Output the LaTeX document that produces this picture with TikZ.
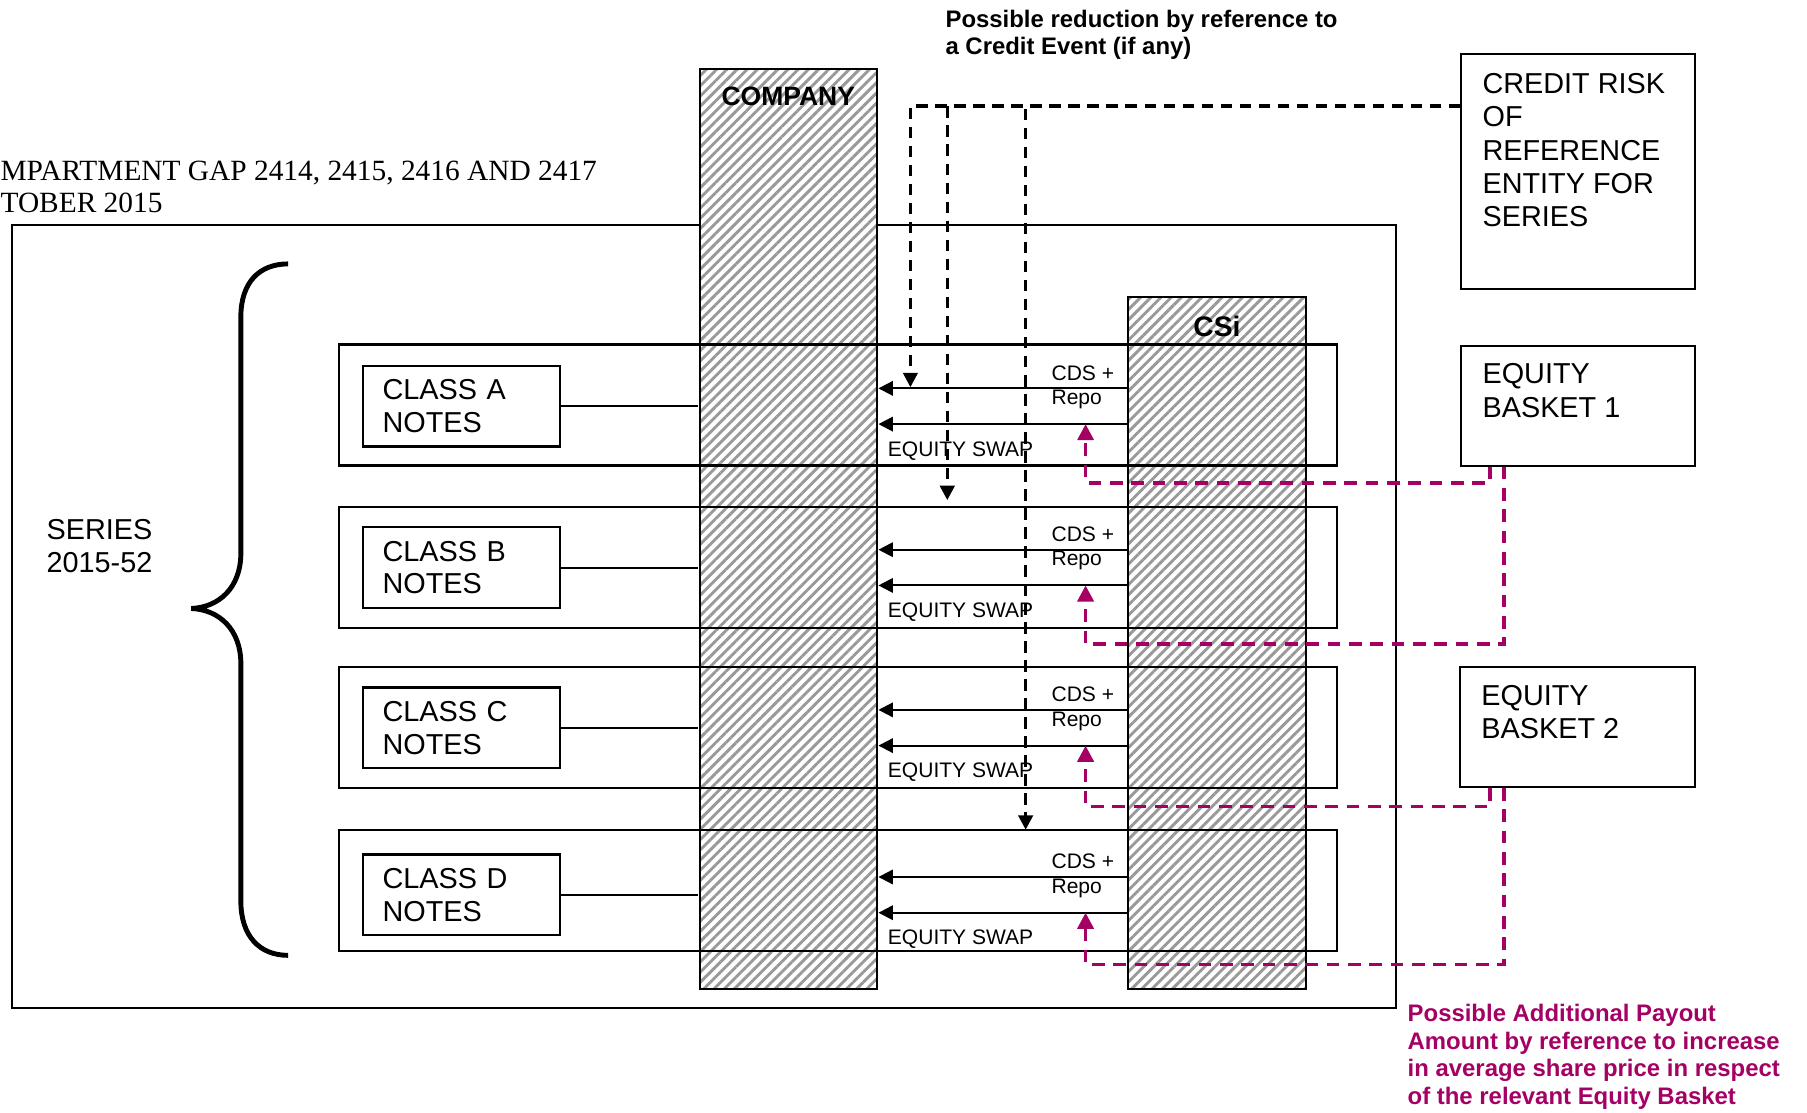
\documentclass[tikz,border=0pt]{standalone}
\usepackage{fontspec}
\setmainfont{Liberation Sans}
\newfontfamily\titlefont{Liberation Serif}
\usetikzlibrary{arrows.meta,patterns.meta}
\definecolor{payout}{RGB}{165,0,100}
\tikzset{
	hatch/.style={draw, line width=0.7pt, inner sep=0, preaction={fill=white}, pattern={Lines[angle=45,distance=2.5pt,line width=1pt]}, pattern color=black!40},
	framebox/.style={draw, line width=0.7pt, inner sep=0},
	classbox/.style={draw, line width=0.8pt, align=left, text width=54.8pt, inner xsep=6.8pt, inner ysep=0, minimum height=28pt, font=\fontsize{10}{11.4}\selectfont},
	big/.style={font=\fontsize{10}{11.6}\selectfont, align=left, inner sep=0, anchor=north west},
	small/.style={font=\fontsize{7.3}{8.5}\selectfont, inner sep=0, anchor=base west},
	note/.style={font=\bfseries\fontsize{8.3}{9.6}\selectfont, align=left, inner sep=0, anchor=north west},
	flow/.style={line width=0.7pt, -{Triangle[length=5pt,width=5pt]}},
	risk/.style={line width=1.1pt, dash pattern=on 4pt off 2.6pt, -{Triangle[length=5pt,width=5pt]}},
	pay/.style={payout, line width=1.2pt, dash pattern=on 4.4pt off 3pt, -{Triangle[length=5.6pt,width=5.6pt]}}
}
\begin{document}
\begin{tikzpicture}[x=0.4pt, y=-0.4pt]
	\path[use as bounding box, fill=white] (0,0) rectangle (1568,965);
	% title (cut at the left edge)
	\node[big, font=\titlefont\fontsize{10.2}{11.2}\selectfont] (title) at (0,139) {MPARTMENT GAP 2414, 2415, 2416 AND 2417\\TOBER 2015};
	\node[framebox, minimum width=480.4pt, minimum height=272pt] (compartment) at (610.5,535) {};
	% the two parties
	\node[hatch, minimum width=61.6pt, minimum height=319.2pt] (company) at (684,459) {};
	\node[font=\bfseries\fontsize{9.2}{11}\selectfont] (companylbl) at (684,84) {COMPANY};
	\node[hatch, minimum width=61.6pt, minimum height=240pt] (csi) at (1056,558) {};
	\node[font=\bfseries\fontsize{9.8}{11}\selectfont] (csilbl) at (1056,283) {CSi};
	% boxes on the right
	\node[framebox, minimum width=81.2pt, minimum height=81.6pt] (credit) at (1369.5,149) {};
	\node[big] (creditlbl) at (1286,63) {CREDIT RISK\\OF\\REFERENCE\\ENTITY FOR\\SERIES};
	\node[framebox, minimum width=81.2pt, minimum height=41.6pt] (bask1) at (1369.5,352) {};
	\node[big] (bask1lbl) at (1286,315) {EQUITY\\BASKET 1};
	\node[framebox, minimum width=81.6pt, minimum height=41.6pt] (bask2) at (1369,631) {};
	\node[big] (bask2lbl) at (1285,594) {EQUITY\\BASKET 2};
	% series
	\node[big] (series) at (40,450) {SERIES\\2015-52};
	\draw[line width=1.7pt] (250,229) .. controls (225,229) and (209,245) .. (209,275) -- (209,480) .. controls (209,510) and (190,527) .. (166,528) .. controls (190,529) and (209,546) .. (209,576) -- (209,782) .. controls (209,812) and (225,829) .. (250,829);
	\foreach \n/\t/\a/\b in {A/299/337/368, B/440/477/508, C/579/616/647, D/720/761/792}{
		\node[framebox, line width=0.8pt, minimum width=346.4pt, minimum height=42pt] (row\n) at (727,\t+52.5) {};
		\node[classbox] (cls\n) at (400.5,{(\a+\b)/2}) {CLASS \n\\NOTES};
		\draw[line width=0.7pt] (cls\n.east) -- (cls\n.east -| company.west);
		\coordinate (up\n) at (0,\a);
		\coordinate (lo\n) at (0,\b);
		\coordinate (tip\n) at (942,\b);
		\draw[flow] (csi.west |- up\n) -- (company.east |- up\n);
		\draw[flow] (csi.west |- lo\n) -- (company.east |- lo\n);
		\node[small] (cds\n) at (912,\a-7) {CDS +};
		\node[small] (repo\n) at (912,\a+14) {Repo};
		\node[small] (swap\n) at (770,\b+28) {EQUITY SWAP};
	}
	% credit event
	\coordinate (ce) at (credit.west |- 0,92);
	\coordinate (hitA) at (790,336);
	\coordinate (hitgap) at (822,434);
	\coordinate (hitD) at (890,720);
	\foreach \h in {hitA,hitgap,hitD}\draw[risk] (ce) -| (\h);
	\node[note] (reduction) at (820,8) {Possible reduction by reference to\\a Credit Event (if any)};
	% additional payout
	\foreach \bk/\x/\y/\n in {bask1/1293/419/A, bask1/1305/559/B, bask2/1293/700/C, bask2/1305/837/D}\draw[pay] (\bk.south -| \x,0) |- (tip\n |- 0,\y) -- (tip\n);
	\node[note, text=payout] (payoutlbl) at (1221,871) {Possible Additional Payout\\Amount by reference to increase\\in average share price in respect\\of the relevant Equity Basket};
\end{tikzpicture}
\end{document}
